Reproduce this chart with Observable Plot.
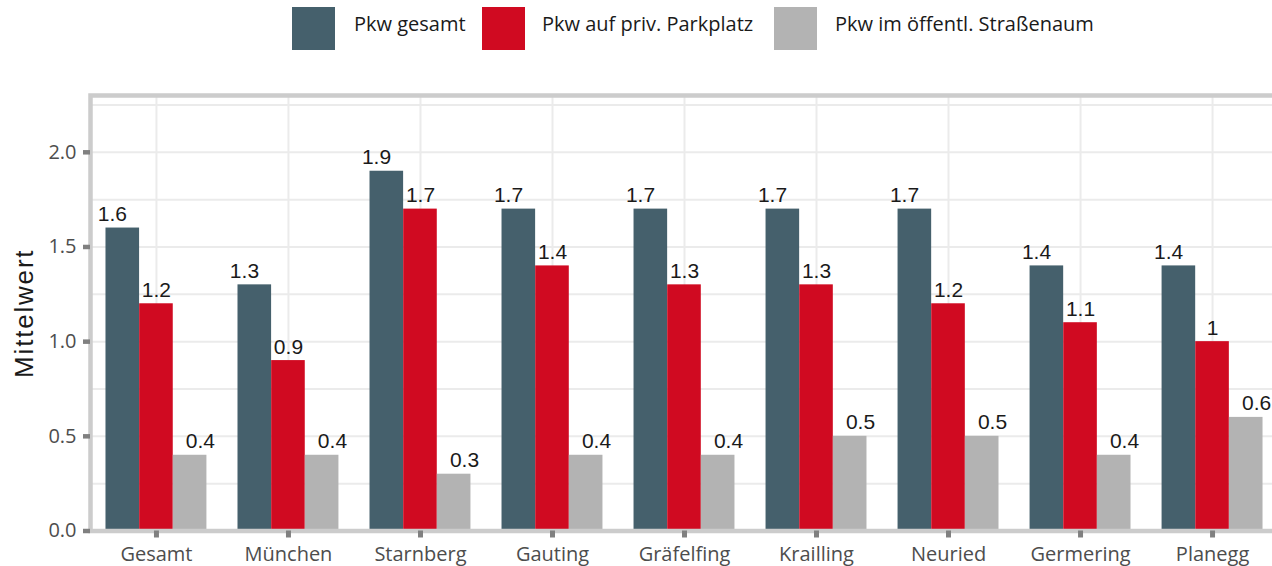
<!DOCTYPE html>
<html>
<head>
<meta charset="utf-8">
<script src="https://cdn.jsdelivr.net/npm/d3@7"></script>
<script src="https://cdn.jsdelivr.net/npm/@observablehq/plot@0.6"></script>
<style>
  html, body { margin: 0; padding: 0; background: #fff; overflow: hidden; }
  #wrap { width: 1272px; height: 566px; position: relative; overflow: hidden; }
  #legend { position: relative; width: 1272px; height: 60px; font-family: "Open Sans", sans-serif; font-size: 20px; color: #1a1a1a; }
  #legend .key { position: absolute; top: 7px; width: 43px; height: 43px; }
  #legend .lab { position: absolute; top: 14px; line-height: 20px; white-space: nowrap; }
</style>
</head>
<body>
<div id="wrap">
  <div id="legend"></div>
  <div id="chart"></div>
</div>
<script>
const categories = ["Gesamt", "München", "Starnberg", "Gauting", "Gräfelfing", "Krailling", "Neuried", "Germering", "Planegg"];
const seriesNames = ["Pkw gesamt", "Pkw auf priv. Parkplatz", "Pkw im öffentl. Straßenaum"];
const seriesColors = ["#45606c", "#d00a21", "#b3b3b3"];
const pkwGesamt = [1.6, 1.3, 1.9, 1.7, 1.7, 1.7, 1.7, 1.4, 1.4];
const pkwPrivat = [1.2, 0.9, 1.7, 1.4, 1.3, 1.3, 1.2, 1.1, 1.0];
const pkwOeffentlich = [0.4, 0.4, 0.3, 0.4, 0.4, 0.5, 0.5, 0.4, 0.6];
const yTicks = [0, 0.5, 1.0, 1.5, 2.0];
const yGrid = [0.25, 0.5, 0.75, 1.0, 1.25, 1.5, 1.75, 2.0, 2.25];
const yLabel = "Mittelwert";

const seriesValues = [pkwGesamt, pkwPrivat, pkwOeffentlich];
const data = seriesValues.map((vals, s) => categories.map((c, i) => ({category: c, series: seriesNames[s], s, value: vals[i]})));

// legend
const legend = document.getElementById("legend");
const keyLeft = [292, 482, 774];
const labLeft = [354, 542, 835];
seriesNames.forEach((n, i) => {
  const k = document.createElement("div");
  k.className = "key"; k.style.left = keyLeft[i] + "px"; k.style.background = seriesColors[i];
  legend.appendChild(k);
  const t = document.createElement("div");
  t.className = "lab"; t.style.left = labLeft[i] + "px"; t.textContent = n;
  legend.appendChild(t);
});

const bw = 101.0;
const third = bw / 3;
const insets = [[0, 2 * third], [third, third], [2 * third, 0]];
const labelDx = [-44, 0, 44];

const marks = [
  Plot.gridY(yGrid, {stroke: "#ebebeb", strokeOpacity: 1, strokeWidth: 2}),
  Plot.gridX(categories, {stroke: "#ebebeb", strokeOpacity: 1, strokeWidth: 2}),
];
data.forEach((d, s) => {
  marks.push(Plot.barY(d, {x: "category", y: "value", fill: seriesColors[s], insetLeft: insets[s][0], insetRight: insets[s][1]}));
});
data.forEach((d, s) => {
  marks.push(Plot.text(d, {x: "category", y: "value", text: d => String(d.value), dx: labelDx[s], dy: -7, lineAnchor: "bottom", fontFamily: "Liberation Sans, Arial, sans-serif", fontSize: 21, fill: "#1a1a1a"}));
});
marks.push(Plot.frame({stroke: "#cccccc", strokeWidth: 4.5}));
marks.push(Plot.axisY({ticks: yTicks, tickFormat: d3.format(".1f"), tickSize: 7, tickPadding: 7, color: "#4d4d4d", stroke: "#808080", strokeWidth: 4.5, fontSize: 20, label: null}));
marks.push(Plot.axisX({tickSize: 7, tickPadding: 9, color: "#4d4d4d", stroke: "#808080", strokeWidth: 5, fontSize: 20, label: null}));
marks.push(Plot.text([yLabel], {frameAnchor: "left", textAnchor: "middle", lineAnchor: "middle", text: d => d, rotate: -90, dx: -66, fontFamily: "Liberation Sans, Arial, sans-serif", fontSize: 26, fill: "#1a1a1a"}));

const chart = Plot.plot({
  width: 1272,
  height: 506,
  marginLeft: 90,
  marginRight: -6,
  marginTop: 35,
  marginBottom: 35.5,
  style: {fontFamily: "Open Sans, sans-serif", fontSize: "20px", background: "white", overflow: "hidden"},
  x: {type: "band", domain: categories, paddingInner: 0.2354, paddingOuter: 0.1173, align: 0.5, round: false, label: null},
  y: {domain: [0, 2.3], label: null},
  marks
});
chart.querySelectorAll("text").forEach(t => {
  if (t.textContent === yLabel) t.setAttribute("letter-spacing", "1.8px");
});
document.getElementById("chart").appendChild(chart);
</script>
</body>
</html>
